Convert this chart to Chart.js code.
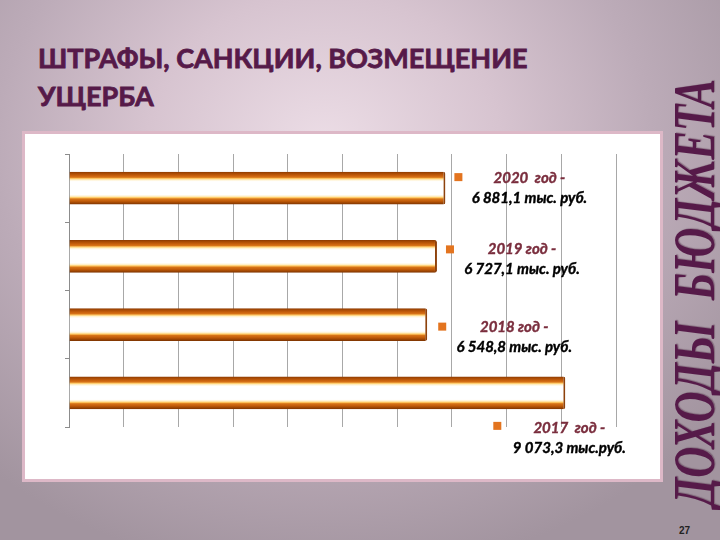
<!DOCTYPE html>
<html>
<head>
<meta charset="utf-8">
<script src="https://cdn.jsdelivr.net/npm/chart.js@4.4.0/dist/chart.umd.min.js"></script>
<style>
html, body { margin: 0; padding: 0; }
body {
    width: 720px; height: 540px; overflow: hidden; position: relative;
    background: radial-gradient(ellipse 70% 80% at 45% 27%, #ecdde6 0%, #d7c4d0 35%, #bcabb8 65%, #a2949f 100%);
    font-family: Lato, sans-serif;
}
#title {
    position: absolute; left: 38px; top: 39px;
    color: #561a49; font-weight: 700; font-size: 27px; line-height: 38px;
    -webkit-text-stroke: 0.8px #561a49;
    white-space: nowrap;
}
#panel {
    position: absolute; left: 22px; top: 131px; width: 635px; height: 345px;
    background: #fff; border: 3px solid #ddb8c7;
}
#side {
    position: absolute; left: 694px; top: 293px;
    font: italic bold 60px "Liberation Serif", serif; line-height: 1;
    color: #561a49; white-space: nowrap;
    text-shadow: 1px 1px 1px rgba(60, 20, 50, 0.35);
}
#page {
    position: absolute; left: 679px; top: 525px;
    font: bold 10px "Liberation Sans", sans-serif; color: #222;
}
canvas { position: absolute; left: 0; top: 0; }
</style>
</head>
<body>
<div id="title">ШТРАФЫ, САНКЦИИ, ВОЗМЕЩЕНИЕ<br>УЩЕРБА</div>
<div id="panel"></div>
<div id="side">ДОХОДЫ&nbsp; БЮДЖЕТА</div>
<div id="page">27</div>
<canvas id="chart" width="720" height="540"></canvas>
<script>
const years = ["2020", "2019", "2018", "2017"];
const values = [6881.1, 6727.1, 6548.8, 9073.3];
const yearLabels = ["2020  год -", "2019 год -", "2018 год -", "2017  год -"];
const amountLabels = ["6 881,1 тыс. руб.", "6 727,1 тыс. руб.", "6 548,8 тыс. руб.", "9 073,3 тыс.руб."];
const axisMax = 10000;
const axisStep = 1000;

// where each caption sits, relative to the bar end and bar centre
const markerShift = [[13, -11], [13, -7], [15, 2], [-68, 33]];
const textShift = [[84, -10], [85, -7], [87, 3], [4, 35]];

// stretch the vertical side title to the slide height
const side = document.getElementById("side");
const k = 428 / side.offsetWidth;
side.style.transform = "translate(-50%, -50%) rotate(-90deg) scaleX(" + k + ")";

function barFill(ctx) {
    const chart = ctx.chart;
    const yScale = chart.scales.y;
    if (!yScale || !chart.chartArea) return "#e07a20";
    const y = yScale.getPixelForValue(ctx.dataIndex);
    const h = yScale.height / years.length * 0.48;
    const g = chart.ctx.createLinearGradient(0, y - h / 2, 0, y + h / 2);
    g.addColorStop(0, "#8a3a02");
    g.addColorStop(0.05, "#a84a04");
    g.addColorStop(0.12, "#c8600c");
    g.addColorStop(0.17, "#d87418");
    g.addColorStop(0.21, "#ffcc6a");
    g.addColorStop(0.25, "#fff2d0");
    g.addColorStop(0.3, "#ffffff");
    g.addColorStop(0.7, "#ffffff");
    g.addColorStop(0.75, "#fff0c8");
    g.addColorStop(0.79, "#ffc860");
    g.addColorStop(0.83, "#d87418");
    g.addColorStop(0.9, "#c05a08");
    g.addColorStop(1, "#7a3200");
    return g;
}

const captions = {
    id: "captions",
    afterDatasetsDraw(chart) {
        const c = chart.ctx;
        const bars = chart.getDatasetMeta(0).data;
        c.save();
        c.textAlign = "center";
        c.textBaseline = "middle";
        bars.forEach((bar, i) => {
            const x = bar.x, y = bar.y;
            c.fillStyle = "#e3741f";
            c.fillRect(x + markerShift[i][0] - 4, y + markerShift[i][1] - 4, 8, 8);
            const tx = x + textShift[i][0];
            const ty = y + textShift[i][1];
            c.font = "italic bold 15px Lato";
            c.lineWidth = 0.4;
            c.fillStyle = c.strokeStyle = "#7a2e3e";
            c.fillText(yearLabels[i], tx, ty);
            c.strokeText(yearLabels[i], tx, ty);
            c.fillStyle = c.strokeStyle = "#000";
            c.fillText(amountLabels[i], tx, ty + 20);
            c.strokeText(amountLabels[i], tx, ty + 20);
        });
        c.restore();
    }
};

new Chart(document.getElementById("chart"), {
    type: "bar",
    data: {
        labels: years,
        datasets: [{
            data: values,
            backgroundColor: barFill,
            borderColor: "#8e420c",
            borderWidth: { top: 0, bottom: 0, left: 0, right: 2 },
            borderSkipped: false,
            borderRadius: { topRight: 2, bottomRight: 2 },
            barPercentage: 0.96,
            categoryPercentage: 0.5
        }]
    },
    plugins: [captions],
    options: {
        indexAxis: "y",
        responsive: false,
        animation: false,
        layout: { padding: { left: 64, right: 104, top: 154, bottom: 113 } },
        plugins: { legend: { display: false }, tooltip: { enabled: false } },
        scales: {
            x: {
                min: 0, max: axisMax,
                ticks: { display: false, stepSize: axisStep },
                grid: { color: "#a8a8a8", drawTicks: false },
                border: { display: false },
                afterFit(s) { s.height = 0; }
            },
            y: {
                ticks: { display: false },
                grid: { drawOnChartArea: false, drawTicks: true, tickLength: 4, color: "#8c8c8c" },
                border: { display: true, color: "#8c8c8c" },
                afterFit(s) { s.width = 5; }
            }
        }
    }
});
</script>
</body>
</html>
